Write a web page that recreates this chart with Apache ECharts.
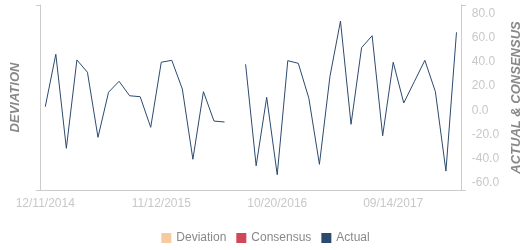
<!DOCTYPE html>
<html>
<head>
<meta charset="utf-8">
<script src="https://cdn.jsdelivr.net/npm/echarts@6/dist/echarts.min.js"></script>
<style>
html,body{margin:0;padding:0;background:#fff;}
#c{width:531px;height:250px;}
</style>
</head>
<body>
<div id="c"></div>
<script>
var categories = ['12/11/2014','01/15/2015','02/12/2015','03/12/2015','04/16/2015','05/14/2015','06/11/2015','07/16/2015','08/13/2015','09/17/2015','10/15/2015','11/12/2015','12/10/2015','01/14/2016','02/11/2016','03/17/2016','04/14/2016','05/12/2016','06/16/2016','07/14/2016','08/18/2016','09/15/2016','10/20/2016','11/17/2016','12/15/2016','01/19/2017','02/16/2017','03/16/2017','04/20/2017','05/18/2017','06/15/2017','07/20/2017','08/17/2017','09/14/2017','10/19/2017','11/16/2017','12/14/2017','01/18/2018','02/15/2018','03/15/2018'];
var actual = [2.9,46.4,-31.6,41.7,31.5,-22.5,14.9,24.0,12.0,11.2,-14.2,39.8,41.4,17.6,-40.7,15.4,-9.0,-9.8,null,38.1,-46.1,10.7,-53.5,41.1,38.9,9.9,-44.9,28.0,74.0,-11.7,51.9,61.8,-21.2,39.8,6.0,23.7,41.4,15.4,-50.5,64.6];
var consensus = [];
var deviation = [];
var rightMin = -66.2, rightMax = 87.3;

var font = 'Liberation Sans, Arial, sans-serif';
var axisGrey = '#cccccc';
var chart = echarts.init(document.getElementById('c'), null, {renderer:'canvas'});
chart.setOption({
  animation:false,
  grid:{left:40,right:69,top:5,bottom:60},
  legend:{
    data:['Deviation','Consensus','Actual'],
    top:227, left:'center',
    icon:'rect', itemWidth:10, itemHeight:10, itemGap:10,
    textStyle:{color:'#888',fontSize:12,fontFamily:font}
  },
  xAxis:{
    type:'category', data:categories, boundaryGap:true,
    axisLine:{lineStyle:{color:axisGrey}},
    axisTick:{length:6,interval:function(i){return i===0;},lineStyle:{color:axisGrey}},
    axisLabel:{interval:10,color:'#c8c8c8',fontSize:12,fontFamily:font,margin:8}
  },
  yAxis:[
    {
      type:'value', position:'left', min:0, max:1, interval:1,
      name:'DEVIATION', nameLocation:'middle', nameRotate:90, nameGap:18,
      nameTextStyle:{color:'#888',fontSize:13,fontStyle:'italic',fontWeight:'bold',fontFamily:font},
      axisLine:{show:true,lineStyle:{color:axisGrey}},
      axisTick:{show:true,length:4,lineStyle:{color:axisGrey}},
      axisLabel:{show:false}, splitLine:{show:false}
    },
    {
      type:'value', position:'right', min:rightMin, max:rightMax, splitNumber:7,
      name:'ACTUAL & CONSENSUS', nameLocation:'middle', nameRotate:90, nameGap:44,
      nameTextStyle:{color:'#888',fontSize:13,fontStyle:'italic',fontWeight:'bold',fontFamily:font},
      axisLine:{show:true,lineStyle:{color:axisGrey}},
      axisTick:{show:false},
      axisLabel:{color:'#c8c8c8',fontSize:12,fontFamily:font,margin:10,showMinLabel:false,showMaxLabel:false,
        formatter:function(v){return v.toFixed(1);}},
      splitLine:{show:false}
    },
    {
      type:'value', position:'right', min:0, max:1, interval:1,
      axisLine:{show:true,lineStyle:{color:axisGrey}},
      axisTick:{show:true,length:4,lineStyle:{color:axisGrey}},
      axisLabel:{show:false}, splitLine:{show:false}
    }
  ],
  series:[
    {name:'Deviation',type:'bar',yAxisIndex:0,data:deviation,itemStyle:{color:'#f7cb9f'}},
    {name:'Consensus',type:'line',yAxisIndex:1,data:consensus,itemStyle:{color:'#d1475a'},symbol:'none'},
    {name:'Actual',type:'line',yAxisIndex:1,data:actual,symbol:'none',connectNulls:false,
      itemStyle:{color:'#2c4a6e'},lineStyle:{color:'#2c4a6e',width:1}}
  ]
});
</script>
</body>
</html>
